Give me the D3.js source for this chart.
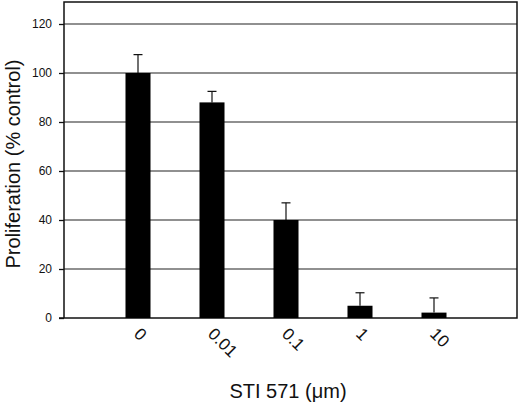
<!DOCTYPE html>
<html>
<head>
<meta charset="utf-8">
<script src="https://cdn.jsdelivr.net/npm/d3@7"></script>
<style>
  html, body { margin: 0; padding: 0; background: #fff; }
  svg { display: block; }
  text { font-family: "Liberation Sans", Arial, Helvetica, sans-serif; fill: #111; }
</style>
</head>
<body>
<svg id="chart" width="520" height="406"></svg>
<script>
const categories = ["0", "0.01", "0.1", "1", "10"];
const values = [100, 88, 40, 5, 2.2];
const errors = [7.5, 4.5, 7, 5.3, 6];
const yTicks = [0, 20, 40, 60, 80, 100, 120];

(function () {
const svg = d3.select("#chart");
const mLeft = 64, mRight = 517, mTop = 2, mBottom = 318;

const x = d3.scaleBand().domain(categories).range([101, 471]).paddingInner(0.662).paddingOuter(0.331);
const y = d3.scaleLinear().domain([0, 120]).range([mBottom, 24]);

// gridlines
svg.append("g").selectAll("line").data(yTicks.filter(d => d > 0)).join("line")
  .attr("x1", mLeft).attr("x2", mRight)
  .attr("y1", d => y(d)).attr("y2", d => y(d))
  .attr("stroke", "#222").attr("stroke-width", 1.2);

// y axis
const yAxis = d3.axisLeft(y).tickValues(yTicks).tickSize(5).tickPadding(7);
const gy = svg.append("g").attr("transform", `translate(${mLeft},0)`).call(yAxis);
gy.select(".domain").remove();
gy.selectAll(".tick line").attr("stroke", "#111").attr("stroke-width", 1.3);
gy.selectAll(".tick text").attr("font-size", 12).attr("fill", "#111")
  .style("font-family", "'Liberation Sans', Arial, sans-serif");

// frame
svg.append("rect").attr("x", mLeft).attr("y", mTop).attr("width", mRight - mLeft).attr("height", mBottom - mTop)
  .attr("fill", "none").attr("stroke", "#111").attr("stroke-width", 1.5);
svg.append("line").attr("x1", mLeft - 5).attr("x2", mLeft).attr("y1", mBottom).attr("y2", mBottom)
  .attr("stroke", "#111").attr("stroke-width", 1.5);

// error bars
const eb = svg.append("g").attr("stroke", "#111").attr("stroke-width", 1.2);
categories.forEach((c, i) => {
  const cx = x(c) + x.bandwidth() / 2;
  eb.append("line").attr("x1", cx).attr("x2", cx).attr("y1", y(values[i])).attr("y2", y(values[i] + errors[i]));
  eb.append("line").attr("x1", cx - 4.5).attr("x2", cx + 4.5).attr("y1", y(values[i] + errors[i])).attr("y2", y(values[i] + errors[i]));
});

// bars
svg.append("g").selectAll("rect").data(categories).join("rect")
  .attr("x", d => x(d)).attr("width", x.bandwidth())
  .attr("y", (d, i) => y(values[i])).attr("height", (d, i) => y(0) - y(values[i]))
  .attr("fill", "#000");

// x tick labels (rotated)
const xAxis = d3.axisBottom(x).tickSize(0).tickPadding(0);
const gx = svg.append("g").attr("transform", `translate(0,${mBottom})`).call(xAxis);
gx.select(".domain").remove();
gx.selectAll(".tick text")
  .attr("font-size", 17).attr("fill", "#111")
  .style("font-family", "'Liberation Sans', Arial, sans-serif")
  .attr("text-anchor", "start").attr("dy", 0)
  .attr("transform", "translate(-5,17) rotate(45)");

// axis titles
svg.append("text").attr("transform", "translate(19.5,164) rotate(-90)")
  .attr("text-anchor", "middle").attr("font-size", 20).text("Proliferation (% control)");
svg.append("text").attr("x", 288).attr("y", 398)
  .attr("text-anchor", "middle").attr("font-size", 20).text("STI 571 (\u03bcm)");
})();
</script>
</body>
</html>
